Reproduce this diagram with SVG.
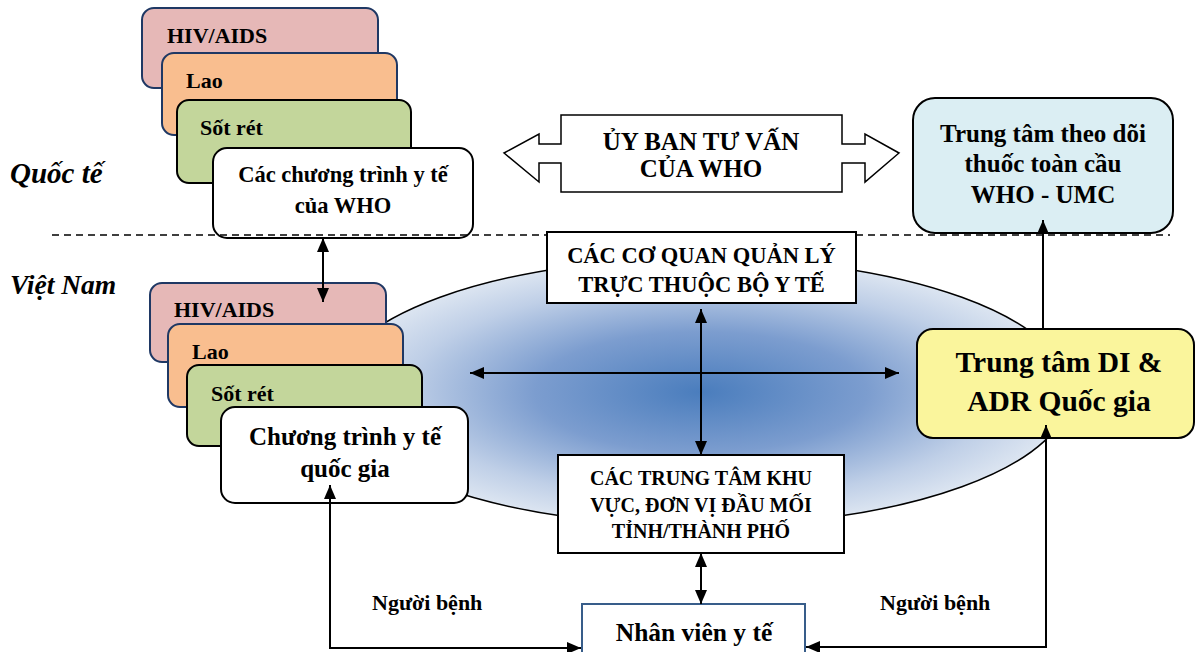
<svg xmlns="http://www.w3.org/2000/svg" width="1195" height="652" viewBox="0 0 1195 652">
<defs>
<style>
.t{font-family:"Liberation Serif","Times New Roman",serif;font-weight:bold;fill:#000}
.c{text-anchor:middle}
.i{font-style:italic}
.box{stroke:#000;stroke-width:2}
.nv{stroke:#1F3864;stroke-width:2}
.ln{fill:none;stroke:#000;stroke-width:2}
</style>
<radialGradient id="eg" cx="0.5" cy="0.5" r="0.5">
<stop offset="0" stop-color="#4A7DBD"/>
<stop offset="0.45" stop-color="#7C9DCF"/>
<stop offset="0.8" stop-color="#BFCFE7"/>
<stop offset="1" stop-color="#DCE5F1"/>
</radialGradient>
<marker id="ah" viewBox="0 0 14 12" refX="14" refY="6" markerWidth="14" markerHeight="12" markerUnits="userSpaceOnUse" orient="auto-start-reverse">
<path d="M0,0 L14,6 L0,12 z" fill="#000"/>
</marker>
</defs>
<rect width="1195" height="652" fill="#fff"/>

<!-- International stack -->
<g id="intl-hiv"><rect x="142" y="8" width="236" height="80" rx="12" fill="#E6B8B7" class="nv"/><text x="167" y="43" class="t" font-size="22">HIV/AIDS</text></g>
<g id="intl-lao"><rect x="162" y="53" width="235" height="82" rx="12" fill="#F9BE8F" class="nv"/><text x="186" y="88" class="t" font-size="22">Lao</text></g>
<g id="intl-sotret"><rect x="177" y="100" width="234" height="83" rx="12" fill="#C3D69B" class="box"/><text x="200" y="135" class="t" font-size="22">Sốt rét</text></g>
<g id="intl-who"><rect x="213" y="148" width="260" height="90" rx="14" fill="#fff" class="box"/><text x="343" y="182" class="t c" font-size="22.5">Các chương trình y tế</text><text x="343" y="213" class="t c" font-size="22.5">của WHO</text></g>

<text x="10" y="183" class="t i" font-size="29">Quốc tế</text>
<text x="10" y="294" class="t i" font-size="27.5">Việt Nam</text>

<!-- Advisory block arrow -->
<g id="advisory">
<path d="M504,153 L539,134 L539,144 L561,144 L561,115 L842,115 L842,144 L865,144 L865,134 L899,153 L865,182 L865,163 L842,163 L842,192 L561,192 L561,163 L539,163 L539,182 Z" fill="#fff" stroke="#000" stroke-width="1.5"/>
<text x="701" y="150" class="t c" font-size="25">ỦY BAN TƯ VẤN</text>
<text x="701" y="177" class="t c" font-size="25">CỦA WHO</text>
</g>

<!-- WHO-UMC -->
<g id="who-umc"><rect x="913" y="98" width="260" height="135" rx="22" fill="#DBEEF3" class="box"/>
<text x="1043" y="142" class="t c" font-size="25">Trung tâm theo dõi</text>
<text x="1043" y="172" class="t c" font-size="25">thuốc toàn cầu</text>
<text x="1043" y="203" class="t c" font-size="25">WHO - UMC</text></g>

<!-- Ellipse -->
<g id="network"><ellipse cx="701" cy="392" rx="369" ry="134" fill="url(#eg)" stroke="#000" stroke-width="1.5"/></g>

<line x1="52" y1="235" x2="1170" y2="235" stroke="#000" stroke-width="1.5" stroke-dasharray="7 5"/>

<!-- Vietnam stack -->
<g id="vn-hiv"><rect x="150" y="283" width="236" height="79" rx="12" fill="#E6B8B7" class="nv"/><text x="174" y="317" class="t" font-size="22">HIV/AIDS</text></g>
<g id="vn-lao"><rect x="168" y="324" width="235" height="83" rx="12" fill="#F9BE8F" class="nv"/><text x="192" y="359" class="t" font-size="22">Lao</text></g>
<g id="vn-sotret"><rect x="187" y="365" width="235" height="81" rx="12" fill="#C3D69B" class="box"/><text x="211" y="401" class="t" font-size="22">Sốt rét</text></g>
<g id="vn-program"><rect x="221" y="407" width="247" height="96" rx="14" fill="#fff" class="box"/><text x="345" y="445" class="t c" font-size="25">Chương trình y tế</text><text x="345" y="477" class="t c" font-size="25">quốc gia</text></g>

<!-- MOH agencies -->
<g id="moh"><rect x="547" y="232" width="309" height="71" fill="#fff" class="box"/>
<text x="701.5" y="263" class="t c" font-size="22.5">CÁC CƠ QUAN QUẢN LÝ</text>
<text x="701.5" y="292" class="t c" font-size="22.5">TRỰC THUỘC BỘ Y TẾ</text></g>

<!-- Regional centers -->
<g id="regional"><rect x="558" y="455" width="286" height="98" fill="#fff" class="box"/>
<text x="701" y="485" class="t c" font-size="20">CÁC TRUNG TÂM KHU</text>
<text x="701" y="512" class="t c" font-size="20">VỰC, ĐƠN VỊ ĐẦU MỐI</text>
<text x="701" y="538" class="t c" font-size="20">TỈNH/THÀNH PHỐ</text></g>

<!-- National DI & ADR -->
<g id="di-adr"><rect x="917" y="329" width="277" height="109" rx="16" fill="#FAF59C" class="box"/>
<text x="1059" y="372" class="t c" font-size="29.5">Trung tâm DI &amp;</text>
<text x="1059" y="411" class="t c" font-size="29.5">ADR Quốc gia</text></g>

<!-- Health staff -->
<g id="staff"><rect x="582" y="604" width="223" height="60" fill="#fff" stroke="#385D8A" stroke-width="2"/>
<text x="694" y="641" class="t c" font-size="25.5">Nhân viên y tế</text></g>

<text x="372" y="610" class="t" font-size="22">Người bệnh</text>
<text x="880" y="610" class="t" font-size="22">Người bệnh</text>

<!-- Connectors -->
<g id="connectors">
<line x1="323" y1="238" x2="323" y2="302" class="ln" marker-start="url(#ah)" marker-end="url(#ah)"/>
<line x1="470" y1="373" x2="899" y2="373" class="ln" marker-start="url(#ah)" marker-end="url(#ah)"/>
<line x1="701" y1="309" x2="701" y2="455" class="ln" marker-start="url(#ah)" marker-end="url(#ah)"/>
<line x1="701" y1="553" x2="701" y2="604" class="ln" marker-start="url(#ah)" marker-end="url(#ah)"/>
<line x1="1043" y1="329" x2="1043" y2="220" class="ln" marker-end="url(#ah)"/>
<path d="M330,485 L330,648 L581,648" class="ln" marker-start="url(#ah)" marker-end="url(#ah)"/>
<path d="M1046,425 L1046,647 L806,647" class="ln" marker-start="url(#ah)" marker-end="url(#ah)"/>
</g>
</svg>
